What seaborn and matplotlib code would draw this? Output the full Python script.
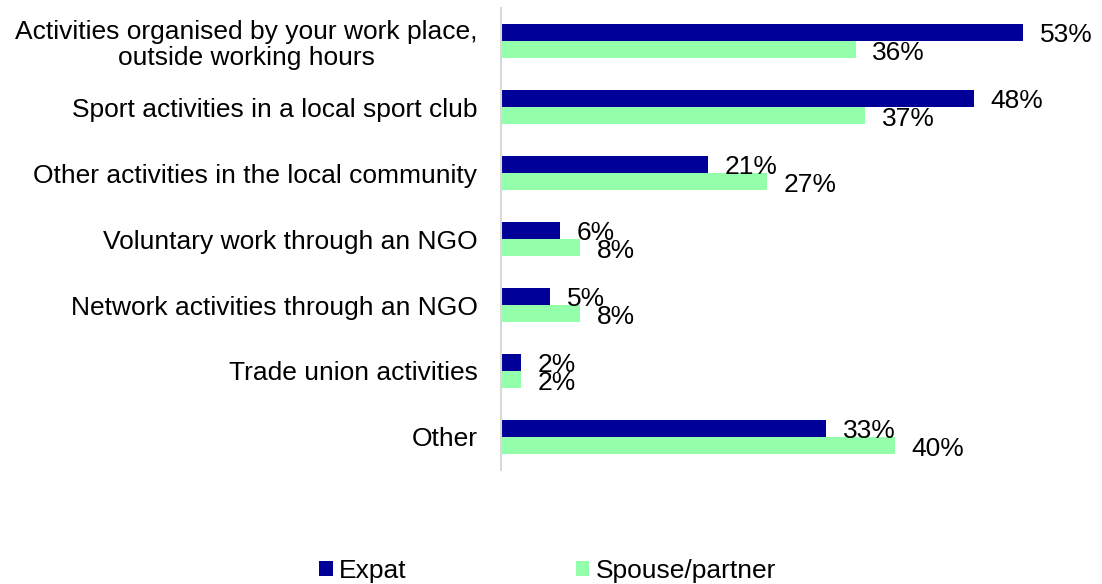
import matplotlib
matplotlib.use("Agg")
import matplotlib.pyplot as plt
from matplotlib.patches import Patch
import seaborn as sns
import pandas as pd

categories = [
    "Activities organised by your work place,\noutside working hours",
    "Sport activities in a local sport club",
    "Other activities in the local community",
    "Voluntary work through an NGO",
    "Network activities through an NGO",
    "Trade union activities",
    "Other",
]
expat = [53, 48, 21, 6, 5, 2, 33]
spouse = [36, 37, 27, 8, 8, 2, 40]
series_names = ["Expat", "Spouse/partner"]
colors = ["#000099", "#93FFAA"]

df = pd.DataFrame({
    "category": categories * 2,
    "value": expat + spouse,
    "group": [series_names[0]] * len(categories) + [series_names[1]] * len(categories),
})

sns.set_theme(style="white")
plt.rcParams["font.family"] = ["Liberation Sans", "DejaVu Sans"]

FS = 19
fig = plt.figure(figsize=(11.02, 5.84), dpi=100)
ax = fig.add_axes([501 / 1102, 1 - 470 / 584, (1090 - 501) / 1102, 462 / 584])

sns.barplot(data=df, y="category", x="value", hue="group", orient="h",
            palette=colors, width=0.53, dodge=True, legend=False,
            saturation=1, ax=ax, errorbar=None, linewidth=0)

# value labels just right of each bar, nudged slightly downward
for cont in ax.containers:
    anns = ax.bar_label(cont, labels=[f"{int(round(v))}%" for v in cont.datavalues],
                        padding=12, fontsize=FS, color="black")
    for a in anns:
        a.xyann = (12, -2.2)

ax.set_xlim(0, (1090 - 501) / 9.85)
ax.set_ylim(6.5, -0.5)
ax.set_xlabel("")
ax.set_ylabel("")
ax.set_xticks([])
ax.tick_params(axis="y", length=0, pad=17, labelsize=FS, labelcolor="black")
for lbl in ax.get_yticklabels():
    lbl.set_multialignment("center")
    lbl.set_linespacing(1.15)
for s in ["top", "right", "bottom"]:
    ax.spines[s].set_visible(False)
ax.spines["left"].set_color("#D9D9D9")
ax.spines["left"].set_linewidth(1.5)

handles = [Patch(facecolor=c, edgecolor="none") for c in colors]
fig.legend(handles, series_names, loc="center", bbox_to_anchor=(0.497, 1 - 571 / 584),
           ncol=2, frameon=False, fontsize=FS, handlelength=0.5, handleheight=0.5,
           handletextpad=0.25, columnspacing=6.4, borderpad=0, labelcolor="black")

fig.savefig("out.png", dpi=100)
